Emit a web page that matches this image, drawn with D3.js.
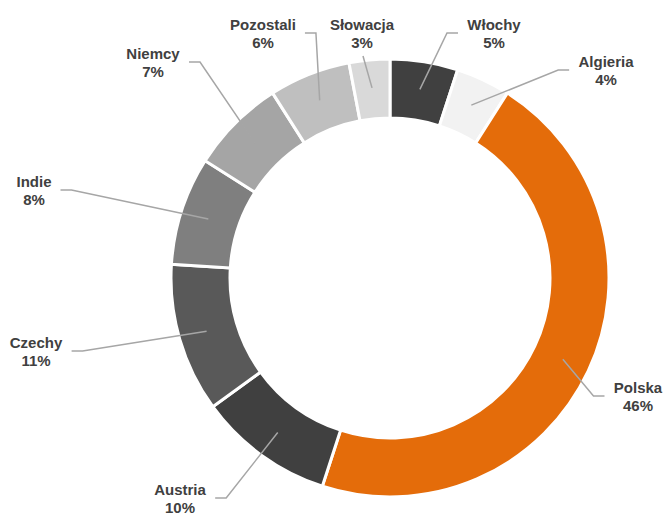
<!DOCTYPE html>
<html>
<head>
<meta charset="utf-8">
<script src="https://cdn.jsdelivr.net/npm/d3@7"></script>
<style>
  body { margin: 0; background: #fff; }
  svg { display: block; }
</style>
</head>
<body>
<svg></svg>
<script>
// data, clockwise from 12 o'clock
var countries = ["Włochy", "Algieria", "Polska", "Austria", "Czechy", "Indie", "Niemcy", "Pozostali", "Słowacja"];
var shares = [5, 4, 46, 10, 11, 8, 7, 6, 3];
var sliceColors = ["#404040", "#f2f2f2", "#e46c0a", "#404040", "#595959", "#7f7f7f", "#a5a5a5", "#bfbfbf", "#d9d9d9"];

// label layout (center x, middle y of the two-line block, side the leader leaves from)
var labelX = [494, 606, 638, 180, 36, 34, 153, 263, 362];
var labelY = [33, 70, 396, 498, 351, 190, 62, 33, 33];
var labelSide = ["left", "left", "left", "right", "right", "right", "right", "right", "bottom"];

var screen = { width: 665, height: 516 };

var svg = d3.select("svg")
            .attr("width", screen.width)
            .attr("height", screen.height);

var cx = 390, cy = 278;
var outerR = 219, innerR = 160;

var data = countries.map(function(c, i) {
  return { name: c, value: shares[i], color: sliceColors[i], lx: labelX[i], ly: labelY[i], side: labelSide[i] };
});

var pie = d3.pie()
            .value(function(d) { return d.value; })
            .sort(null);

var arc = d3.arc()
            .innerRadius(innerR)
            .outerRadius(outerR);

var pointArc = d3.arc()
                 .innerRadius(191)
                 .outerRadius(191);

var plot = svg.append("g")
              .attr("transform", "translate(" + cx + "," + cy + ")");

var arcs = pie(data);

plot.selectAll("path.slice")
    .data(arcs)
    .enter()
    .append("path")
    .classed("slice", true)
    .attr("d", arc)
    .attr("fill", function(d) { return d.data.color; })
    .attr("stroke", "#fff")
    .attr("stroke-width", 3);

// labels
var labels = svg.selectAll("g.label")
                .data(arcs)
                .enter()
                .append("g")
                .classed("label", true)
                .attr("transform", function(d) { return "translate(" + d.data.lx + "," + d.data.ly + ")"; });

labels.append("text")
      .attr("text-anchor", "middle")
      .attr("y", -3)
      .attr("font-family", "Liberation Sans, Arial, sans-serif")
      .attr("font-weight", "bold")
      .attr("font-size", "15px")
      .attr("fill", "#404040")
      .text(function(d) { return d.data.name; });

labels.append("text")
      .attr("text-anchor", "middle")
      .attr("y", 15)
      .attr("font-family", "Liberation Sans, Arial, sans-serif")
      .attr("font-weight", "bold")
      .attr("font-size", "15px")
      .attr("fill", "#404040")
      .text(function(d) { return d.data.value + "%"; });

// leader lines
labels.each(function(d) {
  var w = this.getBBox().width;
  var c = pointArc.centroid(d);
  var end = [c[0] + cx, c[1] + cy];
  var pts;
  if (d.data.side === "bottom") {
    pts = [[d.data.lx + 1, d.data.ly + 23], end];
  } else {
    var dir = d.data.side === "left" ? -1 : 1;
    var sx = d.data.lx + dir * (w / 2 + 9);
    pts = [[sx, d.data.ly], [sx + dir * 11, d.data.ly], end];
  }
  svg.append("path")
     .attr("d", d3.line()(pts))
     .attr("fill", "none")
     .attr("stroke", "#a6a6a6")
     .attr("stroke-width", 1.5);
});
</script>
</body>
</html>
